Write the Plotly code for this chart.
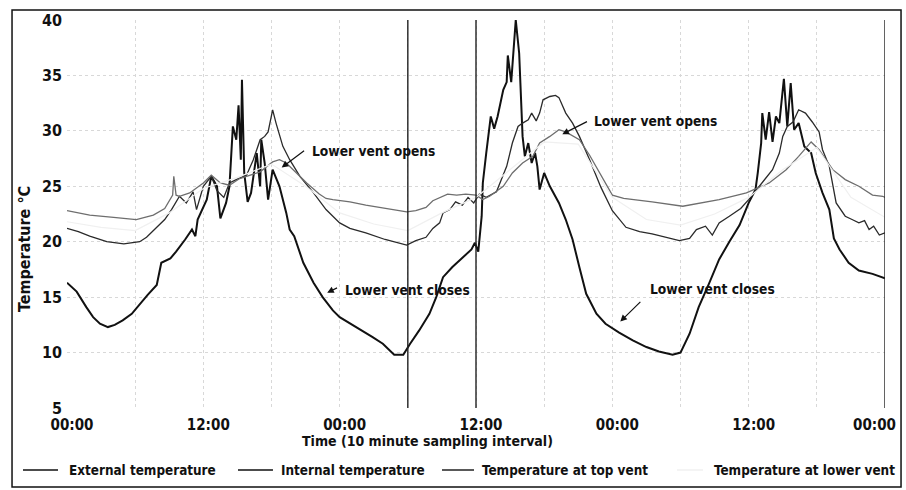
import plotly.graph_objects as go

# ---------------- data (hours from start, temperature in °C) ----------------
ext_hours = [0, 0.85, 1.7, 2.3, 2.9, 3.6, 4.2, 4.9, 5.7, 6.4, 7.1, 7.9, 8.3, 9.1, 9.6, 10.4, 11.0, 11.3, 11.5,
             12.3, 12.7, 13.2, 13.5, 14.0, 14.3, 14.6, 14.9, 15.1, 15.3, 15.4, 15.6, 15.9, 16.2, 16.7, 17.0, 17.1,
             17.4, 17.7, 18.1, 18.7, 19.3, 19.6, 20.0, 20.8, 21.7, 22.5, 23.4, 24.0, 25.5, 26.9, 27.8, 28.8, 29.6,
             30.2, 31.0, 31.9, 32.5, 33.1, 33.9, 34.8, 35.6, 35.9, 36.2, 36.5, 36.6, 36.9, 37.3, 37.6, 37.9, 38.4,
             38.7, 38.8, 39.1, 39.5, 39.8, 40.1, 40.3, 40.6, 40.9, 41.2, 41.4, 41.6, 42.0, 42.5, 43.3, 43.9, 44.5,
             45.1, 45.7, 46.6, 47.4, 48.6, 49.8, 51.0, 52.1, 53.3, 54.0, 54.8, 55.6, 56.5, 57.4, 58.3, 59.2, 60.0,
             60.6, 60.8, 61.1, 61.2, 61.5, 61.8, 62.1, 62.4, 62.7, 63.1, 63.4, 63.7, 64.0, 64.4, 64.9, 65.5, 65.9,
             66.5, 67.1, 67.5, 68.0, 68.8, 69.7, 70.9, 72.0]
ext_temp = [16.3, 15.5, 14.1, 13.2, 12.6, 12.3, 12.5, 12.9, 13.5, 14.4, 15.2, 16.1, 18.1, 18.5, 19.1, 20.2, 21.1, 20.5, 22.0,
            23.8, 25.9, 25.0, 22.1, 23.5, 25.0, 30.4, 29.2, 32.3, 27.4, 34.6, 26.2, 23.6, 24.4, 28.0, 25.0, 29.2,
            27.1, 23.8, 26.5, 25.0, 22.6, 21.1, 20.5, 18.1, 16.3, 15.0, 13.8, 13.2, 12.3, 11.4, 10.8, 9.8, 9.8,
            10.8, 12.0, 13.5, 15.0, 16.8, 17.7, 18.5, 19.3, 19.9, 19.1, 22.3, 25.3, 28.0, 31.3, 30.2, 31.3, 33.7,
            34.4, 36.8, 34.4, 40.0, 37.0, 29.5, 27.7, 28.9, 27.1, 28.0, 26.8, 24.7, 26.2, 25.0, 23.5, 22.0, 20.2,
            17.7, 15.3, 13.5, 12.6, 11.8, 11.1, 10.5, 10.1, 9.8, 10.0, 11.7, 14.1, 16.2, 18.4, 20.0, 21.5, 23.5,
            24.7, 26.2, 28.9, 31.6, 29.2, 31.7, 29.0, 31.3, 30.7, 34.7, 30.4, 34.3, 30.1, 30.7, 28.6, 28.0, 26.2,
            24.4, 22.9, 20.3, 19.3, 18.1, 17.4, 17.1, 16.7]

int_hours = [0, 1.0, 2.0, 3.5, 5.0, 6.4, 7.0, 7.6, 8.6, 9.2, 9.9, 10.5, 11.1, 11.4, 12.0, 12.7, 13.2, 13.8, 14.3,
             14.9, 15.8, 16.4, 16.7, 17.0, 17.4, 17.7, 18.1, 18.4, 19.0, 19.6, 20.5, 21.7, 22.8, 24.0, 24.9, 26.3,
             28.0, 29.9, 30.7, 31.6, 32.2, 32.8, 33.1, 33.7, 34.2, 34.8, 35.3, 35.8, 36.3, 36.9, 37.8, 38.7, 39.2,
             39.7, 40.1, 40.6, 40.9, 41.3, 41.6, 41.9, 42.5, 43.0, 43.3, 43.9, 44.5, 45.1, 46.0, 47.0, 48.0, 49.2,
             50.4, 51.5, 53.9, 54.8, 55.4, 56.2, 56.8, 57.4, 58.3, 59.3, 60.0, 60.9, 62.1, 62.7, 63.0, 63.4, 63.9,
             64.4, 65.0, 65.6, 66.2, 66.5, 67.1, 67.7, 68.5, 69.1, 69.7, 70.2, 70.6, 71.0, 71.5, 72.0]
int_temp = [21.2, 20.9, 20.5, 20.0, 19.8, 20.0, 20.4, 21.0, 22.0, 22.9, 24.1, 23.5, 24.5, 22.9, 25.0, 25.9, 24.6, 24.0, 25.3,
            25.6, 26.0, 27.4, 28.3, 29.2, 29.5, 29.9, 31.9, 30.7, 28.6, 27.4, 25.9, 24.4, 22.9, 21.7, 21.2, 20.8,
            20.2, 19.7, 20.1, 20.4, 21.2, 21.7, 22.6, 22.9, 23.6, 23.3, 24.0, 23.5, 24.3, 24.0, 24.5, 26.8, 28.9,
            30.4, 30.7, 31.0, 31.6, 30.9, 31.6, 32.8, 33.1, 33.2, 33.0, 31.6, 30.7, 29.5, 27.4, 24.9, 22.8, 21.3,
            20.9, 20.7, 20.1, 20.3, 21.1, 21.4, 20.6, 21.7, 22.3, 23.0, 23.8, 25.0, 26.5, 28.0, 29.5, 30.4, 30.8,
            31.9, 31.6, 30.8, 29.9, 28.3, 26.8, 23.5, 22.3, 22.0, 21.7, 21.9, 21.1, 21.4, 20.6, 20.8]

top_hours = [0, 2.0, 4.1, 6.1, 7.6, 8.6, 9.3, 9.4, 9.6, 9.9, 10.8, 12.0, 12.7, 13.5, 14.3, 15.2, 15.8, 17.0, 18.1,
             18.7, 19.3, 19.9, 21.1, 22.2, 22.8, 23.4, 24.9, 26.3, 28.7, 29.9, 30.7, 31.6, 32.2, 32.8, 33.5, 34.3,
             35.1, 36.0, 36.6, 37.2, 38.4, 39.2, 40.1, 41.0, 41.6, 42.5, 43.3, 43.9, 45.1, 46.0, 47.0, 48.0, 49.0,
             51.5, 54.2, 57.4, 59.8, 61.8, 63.3, 64.4, 65.5, 66.2, 67.4, 68.5, 69.7, 70.9, 71.8, 72.0]
top_temp = [22.8, 22.4, 22.2, 22.0, 22.4, 23.0, 24.2, 25.9, 24.2, 24.1, 24.4, 25.3, 26.0, 25.3, 25.1, 25.7, 25.9, 26.3, 27.2,
            27.4, 27.1, 26.5, 25.3, 24.3, 23.9, 23.8, 23.6, 23.3, 22.9, 22.7, 22.8, 23.1, 23.7, 24.0, 24.3, 24.2,
            24.3, 24.2, 23.8, 24.1, 25.0, 26.2, 27.1, 27.7, 28.9, 29.5, 30.1, 29.9, 29.2, 27.8, 26.0, 24.2, 23.9,
            23.6, 23.2, 23.8, 24.4, 25.3, 26.5, 27.7, 29.0, 28.3, 26.5, 25.6, 25.0, 24.2, 24.1, 24.0]

low_hours = [0, 3, 6, 9, 12, 15, 18, 21, 24, 27, 30, 33, 36, 39, 42, 45, 48, 51, 54, 57, 60, 63, 66, 69, 72]
low_temp = [21.8, 21.3, 21.0, 22.6, 24.8, 25.8, 27.0, 25.0, 22.6, 21.6, 21.0, 22.6, 24.0, 26.5, 29.0, 28.8, 24.0,
            22.0, 21.5, 22.5, 24.0, 26.5, 28.5, 24.0, 22.2]

series_names = ["External temperature", "Internal temperature", "Temperature at top vent",
                "Temperature at lower vent"]

tick_hours = [0, 6, 12, 18, 24, 30, 36, 42, 48, 54, 60, 66, 72]
tick_text = ["00:00", "", "12:00", "", "00:00", "", "12:00", "", "00:00", "", "12:00", "", ""]
last_tick_label = "00:00"
y_ticks = [5, 10, 15, 20, 25, 30, 35, 40]
marker_hours = [30, 36, 72]

# notes: (text, text-left hour, text temp, arrow tail hour, tail temp, tip hour, tip temp)
notes = [
    ("Lower vent opens", 21.4, 28.2, 21.0, 28.3, 18.9, 26.7),
    ("Lower vent closes", 24.3, 15.6, 23.9, 15.9, 22.9, 15.4),
    ("Lower vent opens", 46.2, 30.9, 45.9, 30.9, 43.6, 29.7),
    ("Lower vent closes", 51.1, 15.7, 50.6, 14.7, 48.7, 12.8),
]

FONT = "Liberation Sans Narrow, Arial Narrow, DejaVu Sans Condensed, sans-serif"
colors = ["#111111", "#2a2a2a", "#6e6e6e", "#f0f0f0"]
widths = [2, 1.3, 1.3, 1.2]

fig = go.Figure()
all_x = [ext_hours, int_hours, top_hours, low_hours]
all_y = [ext_temp, int_temp, top_temp, low_temp]
for xs, ys, nm, c, w in zip(all_x, all_y, series_names, colors, widths):
    fig.add_trace(go.Scatter(x=xs, y=ys, mode="lines", name=nm, line=dict(color=c, width=w),
                             showlegend=False))

for h in marker_hours:
    fig.add_shape(type="line", xref="x", yref="paper", x0=h, x1=h, y0=0, y1=1,
                  line=dict(color="#222222", width=1.4))

# outer frame
fig.add_shape(type="rect", xref="paper", yref="paper", x0=-0.0672, x1=1.0196, y0=-0.2036, y1=1.0258,
              line=dict(color="#111111", width=1.5))

# legend drawn below the axis (sample line + label)
leg_line_x = [(-0.0538, -0.011), (0.2090, 0.2518), (0.4584, 0.4976), (0.7457, 0.7775)]
leg_text_x = [0.0, 0.2592, 0.5049, 0.7885]
leg_line_col = ["#111111", "#111111", "#222222", "#f0f0f0"]
for (x0, x1), tx, nm, c in zip(leg_line_x, leg_text_x, series_names, leg_line_col):
    fig.add_shape(type="line", xref="paper", yref="paper", x0=x0, x1=x1, y0=-0.1598, y1=-0.1598,
                  line=dict(color=c, width=1.5))
    fig.add_annotation(x=tx, y=-0.1598, xref="paper", yref="paper", text=nm, showarrow=False,
                       xanchor="left", yanchor="middle",
                       font=dict(family=FONT, size=13.4, color="#111111", weight="bold"))

for text, tx, ty, ax, ay, hx, hy in notes:
    fig.add_annotation(x=tx, y=ty, xref="x", yref="y", text=text, showarrow=False,
                       xanchor="left", yanchor="middle",
                       font=dict(family=FONT, size=13.7, color="#111111", weight="bold"))
    fig.add_annotation(x=hx, y=hy, ax=ax, ay=ay, xref="x", yref="y", axref="x", ayref="y",
                       text="", showarrow=True, arrowhead=2, arrowsize=1.1, arrowwidth=1.2,
                       arrowcolor="#111111")

fig.add_annotation(x=1.0159, y=-0.0440, xref="paper", yref="paper", text=last_tick_label,
                   showarrow=False, xanchor="right", yanchor="middle",
                   font=dict(family=FONT, size=15, color="#111111", weight="bold"))
fig.add_annotation(x=0.441, y=-0.0850, xref="paper", yref="paper",
                   text="Time (10 minute sampling interval)", showarrow=False,
                   xanchor="center", yanchor="middle",
                   font=dict(family=FONT, size=14, color="#111111", weight="bold"))
fig.add_annotation(x=-0.0513, y=0.41, xref="paper", yref="paper", text="Temperature °C",
                   textangle=-90, showarrow=False, xanchor="center", yanchor="middle",
                   font=dict(family=FONT, size=16, color="#111111", weight="bold"))

fig.update_layout(
    width=906, height=490,
    margin=dict(l=67, r=21, t=20, b=82, autoexpand=False),
    paper_bgcolor="white", plot_bgcolor="white",
    font=dict(family=FONT, color="#111111"),
    showlegend=False,
)
fig.update_xaxes(range=[0, 72], tickvals=tick_hours, ticktext=tick_text, showgrid=True,
                 gridcolor="#d8d8d8", griddash="dot", gridwidth=1, zeroline=False, showline=False,
                 ticks="", ticklabelstandoff=6, ticklabelshift=5, automargin=False,
                 tickfont=dict(family=FONT, size=15, color="#111111", weight="bold"))
fig.update_yaxes(range=[5, 40], tickvals=y_ticks, showgrid=True, gridcolor="#d8d8d8",
                 griddash="dot", gridwidth=1, zeroline=False, showline=False, ticks="",
                 ticklabelstandoff=4, automargin=False,
                 tickfont=dict(family=FONT, size=16, color="#111111", weight="bold"))

fig.write_html("out.html", config={"displayModeBar": False},
               post_script="document.body.style.margin='0px';document.body.style.overflow='hidden';")
